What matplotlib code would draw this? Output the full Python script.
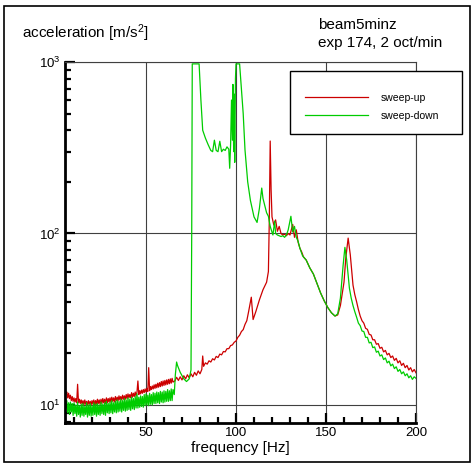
import numpy as np
import matplotlib
matplotlib.use("Agg")
import matplotlib.pyplot as plt
from matplotlib.patches import Rectangle
from matplotlib.ticker import FixedLocator, LogLocator, NullFormatter

plt.rcParams['font.family'] = ['Liberation Sans', 'DejaVu Sans']
plt.rcParams['mathtext.fontset'] = 'custom'
plt.rcParams['mathtext.rm'] = 'Liberation Sans'
plt.rcParams['mathtext.it'] = 'Liberation Sans:italic'

# low-frequency part is read every 0.5 Hz (5 ... 65 Hz)
low_freq = list(np.arange(5, 65.5, 0.5))

# sweep-up (red)
up_low_acc = [12.5, 11.6, 11.9, 11.0, 11.7, 10.9, 11.4, 10.6, 11.2, 10.5,
              11.0, 10.4, 10.9, 10.3, 13.2, 10.3, 10.8, 10.2, 10.7, 10.1,
              10.6, 10.0, 10.7, 10.1, 10.5, 10.0, 10.6, 10.1, 10.5, 10.0,
              10.6, 10.1, 10.7, 10.0, 10.6, 10.1, 10.8, 10.2, 10.7, 10.1,
              10.8, 10.2, 10.9, 10.3, 10.8, 10.2, 11.0, 10.3, 10.9, 10.4,
              11.0, 10.4, 11.1, 10.5, 11.0, 10.4, 11.2, 10.6, 11.1, 10.6,
              11.3, 10.7, 11.2, 10.7, 11.4, 10.8, 11.3, 10.8, 11.5, 10.9,
              11.6, 11.0, 11.5, 11.0, 11.8, 11.1, 11.7, 11.2, 11.9, 11.3,
              11.9, 13.8, 11.5, 12.1, 11.6, 12.2, 11.7, 12.3, 11.8, 12.4,
              11.9, 12.5, 12.0, 16.5, 12.1, 12.8, 12.3, 12.9, 12.4, 13.1,
              12.5, 13.2, 12.6, 13.4, 12.7, 13.5, 12.8, 13.7, 12.9, 13.8,
              13.0, 13.9, 13.1, 14.0, 13.2, 14.1, 13.3, 14.2, 13.4, 14.3,
              13.6]
up_high_freq = [66, 67, 68, 69, 70, 71, 72, 73, 74, 75,
                76, 77, 78, 79, 80, 81, 81.5, 82, 83, 84,
                85, 86, 87, 88, 89, 90, 91, 92, 93, 94,
                95, 96, 97, 98, 99, 100, 101, 102, 103, 104,
                105, 106, 107, 108.5, 109.5, 111, 113, 115, 117, 118,
                118.5, 119, 119.5, 120, 121, 122, 123, 124, 125, 126,
                127, 128, 129, 130, 131.5, 132.5, 133.5, 134.5, 135.5, 136.5,
                137.5, 139, 141, 143, 145, 147, 149, 151, 153, 155,
                156.5, 158, 160, 161, 162.3, 163.5, 165, 166, 167, 168,
                169, 170, 171, 172, 173, 174, 175, 176, 177, 178,
                179, 180, 181, 182, 183, 184, 185, 186, 187, 188,
                189, 190, 191, 192, 193, 194, 195, 196, 197, 198,
                199, 200]
up_high_acc = [13.8, 14.5, 13.9, 14.6, 14.0, 14.8, 14.2, 15.0, 14.4, 15.2,
               14.6, 15.5, 14.9, 15.8, 15.2, 16.1, 19.3, 16.8, 17.6, 17.3,
               18.1, 17.8, 18.6, 18.3, 19.2, 18.9, 19.8, 19.6, 20.5, 20.4,
               21.3, 21.3, 22.2, 22.4, 23.2, 23.6, 24.8, 25.5, 26.8, 27.5,
               29.5, 31.0, 35.0, 42.5, 31.5, 35.0, 41.0, 47.0, 52.0, 60.0,
               120, 346, 180, 125, 112, 120, 103, 110, 100, 98,
               99, 97, 100, 98, 113, 95, 105, 89, 82, 78,
               73, 70, 63, 58, 51, 45, 40.5, 37, 34.5, 33,
               33.5, 38, 52, 72, 94, 75, 50, 44, 40, 36,
               33, 31, 30, 28, 27.6, 25.8, 25.6, 24, 24, 22.6,
               22.8, 21.4, 21.7, 20.4, 20.8, 19.6, 20.0, 18.9, 19.3, 18.2,
               18.7, 17.6, 18.1, 17.0, 17.5, 16.5, 17.0, 16.0, 16.5, 15.6,
               16.1, 15.4]

# sweep-down (green)
down_low_acc = [11.0, 9.6, 10.6, 9.0, 10.3, 8.8, 10.4, 9.1, 10.2, 8.7,
                10.3, 8.9, 10.0, 8.6, 10.4, 8.8, 9.9, 8.5, 10.1, 8.7,
                10.2, 8.6, 9.8, 8.8, 10.3, 8.5, 10.0, 8.7, 10.2, 8.6,
                9.9, 8.7, 10.3, 8.8, 10.1, 8.6, 10.2, 8.8, 10.0, 8.7,
                10.4, 8.9, 10.1, 8.8, 10.3, 8.7, 10.5, 9.0, 10.2, 8.9,
                10.4, 9.0, 10.6, 8.9, 10.3, 9.1, 10.5, 9.0, 10.7, 9.1,
                10.5, 9.2, 10.8, 9.1, 10.6, 9.3, 10.9, 9.2, 10.7, 9.3,
                11.0, 9.4, 10.8, 9.3, 11.1, 9.5, 10.9, 9.4, 11.2, 9.6,
                11.6, 9.6, 11.1, 9.7, 11.3, 9.8, 11.2, 9.7, 11.5, 9.9,
                11.6, 10.0, 11.4, 9.9, 11.7, 10.1, 11.5, 10.0, 11.8, 10.2,
                11.7, 10.2, 11.9, 10.3, 11.8, 10.2, 12.0, 10.4, 11.9, 10.3,
                12.1, 10.4, 12.0, 10.5, 12.3, 10.5, 12.1, 10.6, 12.4, 10.6,
                12.3]
down_high_freq = [65.7, 66.3, 67, 67.5, 69, 71, 72.5, 74, 75, 75.4,
                  75.7, 79.5, 80.5, 81.5, 83, 84.5, 86, 87, 88, 89,
                  90, 91, 92, 93, 94, 95, 96, 96.5, 97, 97.5,
                  98, 98.3, 98.7, 99, 99.3, 99.7, 100, 102, 103, 104,
                  105, 106.5, 108, 110, 111.7, 113, 114.3, 115, 116, 117,
                  118, 119, 120.5, 121.5, 122, 123, 124, 125, 126, 127,
                  128, 129, 130.5, 131.5, 132.5, 133.5, 134.5, 135.5, 137, 139,
                  141, 143, 145, 147, 149, 151, 153, 155, 156.5, 158,
                  159.5, 160.5, 161.5, 163, 164, 165, 166, 167, 168, 169,
                  170, 171, 172, 173, 174, 175, 176, 177, 178, 179,
                  180, 181, 182, 183, 184, 185, 186, 187, 188, 189,
                  190, 191, 192, 193, 194, 195, 196, 197, 198, 199,
                  200]
down_high_acc = [11.5, 15.0, 17.8, 17.0, 15.5, 14.2, 13.7, 14.2, 16.0, 100,
                 975, 975, 600, 400, 360, 330, 305, 300, 350, 305,
                 300, 345, 300, 310, 305, 320, 310, 240, 330, 600,
                 350, 740, 300, 650, 260, 800, 975, 975, 700, 500,
                 307, 200, 156, 125, 116, 140, 184, 160, 145, 132,
                 126, 110, 98, 118, 100, 98, 97, 96, 97, 95,
                 98, 105, 126, 102, 110, 95, 90, 82, 74, 70,
                 63, 58, 51, 45, 40.5, 37, 34.5, 33, 34, 42,
                 65, 83, 70, 48, 42, 38, 35, 32.5, 30, 29,
                 27, 26.8, 24.8, 24.8, 23, 23.2, 21.6, 21.8, 20.3, 20.6,
                 19.3, 19.6, 18.4, 18.8, 17.6, 18.0, 16.9, 17.3, 16.3, 16.7,
                 15.7, 16.1, 15.2, 15.6, 14.8, 15.2, 14.4, 14.8, 14.1, 14.6,
                 14.3]

up_freq = low_freq + up_high_freq
up_acc = up_low_acc + up_high_acc
down_freq = low_freq + down_high_freq
down_acc = down_low_acc + down_high_acc

x_ticks = [50, 100, 150, 200]
y_ticks = [10, 100, 1000]
y_ticklabels = [r'$\mathregular{10^{1}}$', r'$\mathregular{10^{2}}$', r'$\mathregular{10^{3}}$']

fig = plt.figure(figsize=(4.76, 4.68), dpi=100)
ax = fig.add_axes([65/476, 1-423/468, (416-65)/476, (423-62)/468])

ax.plot(up_freq, up_acc, color='#cc0000', lw=0.9, label='sweep-up')
ax.plot(down_freq, down_acc, color='#00cc00', lw=0.9, label='sweep-down')

ax.set_yscale('log')
ax.set_xlim(5, 200)
ax.set_ylim(7.85, 1000)

ax.xaxis.set_major_locator(FixedLocator(x_ticks))
ax.xaxis.set_minor_locator(FixedLocator(np.arange(10, 200, 10)))
ax.set_yticks(y_ticks)
ax.set_yticklabels(y_ticklabels)
ax.yaxis.set_minor_locator(LogLocator(base=10, subs=np.arange(2, 10)))
ax.yaxis.set_minor_formatter(NullFormatter())

ax.tick_params(axis='both', which='both', direction='in', top=False, right=False,
               labelsize=9.5, width=1.6, color='black')
ax.tick_params(axis='both', which='major', length=7)
ax.tick_params(axis='both', which='minor', length=4)
ax.tick_params(axis='x', pad=3)
ax.tick_params(axis='y', pad=3)

ax.grid(which='major', color='#404040', lw=0.8)
for side in ['left', 'bottom']:
    ax.spines[side].set_linewidth(2.0)
    ax.spines[side].set_color('black')
for side in ['top', 'right']:
    ax.spines[side].set_linewidth(0.8)
    ax.spines[side].set_color('#404040')

fig.text(22/476, 1-33/468, r'acceleration [m/s$^2$]', fontsize=11, ha='left', va='center')
fig.text(240/476, 1-452/468, 'frequency [Hz]', fontsize=11, ha='center', va='baseline')
fig.text(318/476, 1-29/468, 'beam5minz', fontsize=11, ha='left', va='baseline')
fig.text(318/476, 1-47/468, 'exp 174, 2 oct/min', fontsize=11, ha='left', va='baseline')

# legend box overlapping the right edge of the plot
fig.patches.append(Rectangle((290/476, 1-134/468), 172/476, 63/468, transform=fig.transFigure,
                             facecolor='white', edgecolor='black', lw=1.0, zorder=3))
fig.legend(loc='upper left', bbox_to_anchor=(305/476, 1-93/468), frameon=False,
           fontsize=7.5, handlelength=6, handletextpad=1.3, labelspacing=0.75,
           borderpad=0, borderaxespad=0)

# outer frame
fig.patches.append(Rectangle((4/476, 1-462/468), 466/476, 456/468, transform=fig.transFigure,
                             facecolor='none', edgecolor='black', lw=1.2, zorder=3))

fig.savefig('out.png', dpi=100)
